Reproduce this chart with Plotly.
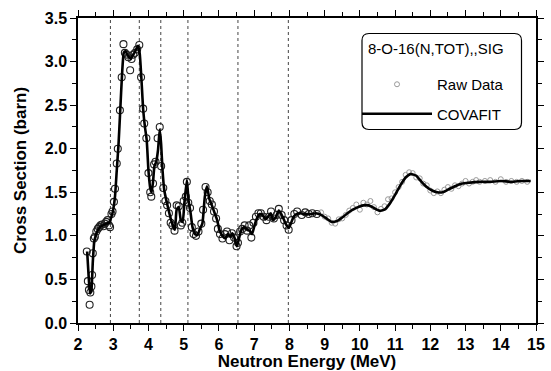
import plotly.graph_objects as go

# ---------------- data ----------------
fit_energy = [2.26, 2.30, 2.34, 2.38, 2.42, 2.46, 2.50, 2.56, 2.62, 2.70, 2.80, 2.88, 2.95, 3.00,
              3.05, 3.10, 3.15, 3.20, 3.25, 3.30, 3.35, 3.40, 3.45, 3.50, 3.55, 3.60, 3.65, 3.70,
              3.75, 3.80, 3.85, 3.90, 3.95, 4.00, 4.05, 4.09, 4.13, 4.17, 4.22, 4.27, 4.32, 4.36,
              4.40, 4.45, 4.50, 4.57, 4.63, 4.69, 4.75, 4.80, 4.86, 4.92, 4.97, 5.02, 5.09, 5.14,
              5.19, 5.25, 5.32, 5.39, 5.46, 5.53, 5.60, 5.66, 5.73, 5.80, 5.88, 5.95, 6.02, 6.10,
              6.18, 6.25, 6.32, 6.38, 6.45, 6.51, 6.57, 6.64, 6.72, 6.80, 6.87, 6.94, 7.01, 7.08,
              7.16, 7.24, 7.32, 7.40, 7.47, 7.54, 7.62, 7.70, 7.77, 7.85, 7.92, 7.98, 8.05, 8.12,
              8.20, 8.30, 8.45, 8.60, 8.75, 8.90, 9.05, 9.20, 9.35, 9.50, 9.65, 9.80, 9.95, 10.10,
              10.25, 10.40, 10.55, 10.70, 10.85, 11.00, 11.15, 11.30, 11.45, 11.60, 11.75, 11.90,
              12.05, 12.20, 12.35, 12.50, 12.70, 12.90, 13.10, 13.40, 13.70, 14.00, 14.30, 14.60,
              14.85]
fit_sigma = [0.82, 0.55, 0.34, 0.38, 0.70, 0.93, 1.00, 1.06, 1.10, 1.12, 1.14, 1.15, 1.22, 1.30,
             1.45, 1.75, 2.05, 2.45, 2.85, 3.10, 3.12, 3.08, 3.05, 3.03, 3.07, 3.10, 3.14, 3.18,
             3.10, 2.80, 2.45, 2.25, 2.10, 1.75, 1.55, 1.50, 1.62, 1.80, 1.85, 1.98, 2.22, 2.05,
             1.75, 1.52, 1.42, 1.30, 1.20, 1.12, 1.07, 1.30, 1.33, 1.18, 1.16, 1.38, 1.64, 1.40,
             1.28, 1.10, 1.02, 1.01, 1.08, 1.14, 1.45, 1.57, 1.42, 1.35, 1.26, 1.18, 1.06, 1.00,
             0.97, 1.02, 0.99, 1.03, 0.97, 0.88, 0.97, 1.07, 1.10, 1.07, 1.06, 1.02, 1.12, 1.20,
             1.25, 1.24, 1.19, 1.22, 1.26, 1.18, 1.22, 1.29, 1.25, 1.18, 1.12, 1.09, 1.15, 1.22,
             1.25, 1.26, 1.25, 1.25, 1.26, 1.24, 1.20, 1.16, 1.17, 1.21, 1.26, 1.30, 1.33, 1.35,
             1.35, 1.32, 1.29, 1.30, 1.37, 1.47, 1.58, 1.67, 1.71, 1.69, 1.62, 1.56,
             1.52, 1.50, 1.50, 1.53, 1.57, 1.60, 1.61, 1.62, 1.62, 1.63, 1.62, 1.63,
             1.63]

raw_energy_low = [2.25, 2.28, 2.31, 2.33, 2.35, 2.38, 2.40, 2.42, 2.45, 2.48, 2.52, 2.56, 2.60,
                  2.64, 2.68, 2.72, 2.76, 2.80, 2.84, 2.88, 2.91, 2.95, 2.98, 3.02, 3.05, 3.10,
                  3.13, 3.19, 3.24, 3.29, 3.33, 3.38, 3.43, 3.48, 3.52, 3.57, 3.62, 3.68, 3.74,
                  3.79, 3.85, 3.88, 3.94, 4.00, 4.05, 4.08, 4.13, 4.16, 4.20, 4.26, 4.32, 4.36,
                  4.42, 4.48, 4.53, 4.58, 4.63, 4.68, 4.74, 4.80, 4.86, 4.92, 4.96, 5.00, 5.06,
                  5.09, 5.13, 5.18, 5.23, 5.28, 5.35, 5.42, 5.50, 5.55, 5.62, 5.68, 5.74, 5.80,
                  5.86, 5.92, 5.97, 6.03, 6.10, 6.17, 6.23, 6.30, 6.37, 6.43, 6.50, 6.54, 6.60,
                  6.66, 6.73, 6.80, 6.86, 6.92, 6.98, 7.05, 7.12, 7.19, 7.27, 7.35, 7.42, 7.48,
                  7.56, 7.64, 7.70, 7.78, 7.85, 7.92, 7.98, 8.06, 8.14, 8.22, 8.35, 8.45, 8.55,
                  8.65, 8.78]
raw_sigma_low = [0.82, 0.48, 0.38, 0.21, 0.35, 0.42, 0.55, 0.80, 0.97, 0.99, 1.05, 1.08, 1.10,
                 1.12, 1.13, 1.11, 1.14, 1.16, 1.18, 1.12, 1.10, 1.25, 1.28, 1.39, 1.54, 1.83,
                 2.00, 2.44, 2.82, 3.20, 3.10, 3.08, 3.05, 2.90, 3.03, 3.08, 3.10, 3.14, 3.19,
                 2.82, 2.46, 2.29, 2.12, 1.72, 1.50, 1.45, 1.60, 1.82, 1.85, 2.12, 2.25, 1.80,
                 1.55, 1.40, 1.35, 1.26, 1.15, 1.12, 1.06, 1.35, 1.34, 1.12, 1.15, 1.40, 1.45,
                 1.62, 1.38, 1.32, 1.10, 1.02, 1.00, 1.05, 1.14, 1.30, 1.56, 1.50, 1.40, 1.36,
                 1.28, 1.20, 1.08, 1.02, 0.97, 1.02, 1.05, 0.95, 1.03, 0.98, 0.88, 0.92, 1.05,
                 1.08, 1.12, 1.06, 1.12, 0.98, 1.15, 1.22, 1.26, 1.26, 1.22, 1.18, 1.22, 1.28,
                 1.20, 1.24, 1.31, 1.24, 1.18, 1.12, 1.07, 1.18, 1.25, 1.28, 1.24, 1.27, 1.25,
                 1.26, 1.25]

raw_energy_high = [8.90, 9.00, 9.10, 9.20, 9.30, 9.40, 9.50, 9.60, 9.70, 9.80, 9.90, 10.00,
                   10.10, 10.20, 10.30, 10.40, 10.50, 10.60, 10.70, 10.80, 10.90, 11.00, 11.10,
                   11.20, 11.30, 11.40, 11.50, 11.60, 11.70, 11.80, 11.90, 12.00, 12.10, 12.20,
                   12.30, 12.40, 12.50, 12.60, 12.70, 12.80, 12.90, 13.00, 13.10, 13.20, 13.30,
                   13.40, 13.55, 13.70, 13.85, 14.00, 14.15, 14.30, 14.45, 14.60, 14.75]
raw_sigma_high = [1.27, 1.22, 1.20, 1.15, 1.14, 1.19, 1.20, 1.24, 1.29, 1.32, 1.36, 1.30,
                  1.38, 1.36, 1.40, 1.33, 1.27, 1.31, 1.34, 1.42, 1.43, 1.50, 1.56,
                  1.62, 1.70, 1.73, 1.72, 1.67, 1.66, 1.60, 1.58, 1.52, 1.49, 1.51,
                  1.49, 1.53, 1.56, 1.54, 1.58, 1.57, 1.60, 1.63, 1.60, 1.62, 1.64,
                  1.62, 1.63, 1.64, 1.62, 1.65, 1.62, 1.63, 1.62, 1.63, 1.62]

boundary_energies = [2.92, 3.74, 4.35, 5.12, 6.54, 7.97]

x_ticks = [2, 3, 4, 5, 6, 7, 8, 9, 10, 11, 12, 13, 14, 15]
y_ticks = [0.0, 0.5, 1.0, 1.5, 2.0, 2.5, 3.0, 3.5]
y_tick_labels = ["0.0", "0.5", "1.0", "1.5", "2.0", "2.5", "3.0", "3.5"]

legend_title = "8-O-16(N,TOT),,SIG"

# ---------------- figure ----------------
FONT = "Liberation Sans, Arial, sans-serif"
PL, PR, PT, PB = 78, 536, 18, 323   # plot area in pixels
PW, PH = PR - PL, PB - PT


def px_x(p):
    return (p - PL) / PW


def px_y(p):
    return (PB - p) / PH


fig = go.Figure()

fig.add_trace(go.Scatter(
    x=raw_energy_low, y=raw_sigma_low, mode="markers", name="Raw Data",
    legendgroup="raw", showlegend=False,
    marker=dict(symbol="circle-open", size=7, color="#222222", line=dict(width=1.1)),
))
fig.add_trace(go.Scatter(
    x=raw_energy_high, y=raw_sigma_high, mode="markers", name="Raw Data",
    legendgroup="raw", showlegend=True,
    marker=dict(symbol="circle-open", size=5, color="#9a9a9a", line=dict(width=1)),
))
fig.add_trace(go.Scatter(
    x=fit_energy, y=fit_sigma, mode="lines", name="COVAFIT", legendgroup="fit",
    line=dict(color="black", width=2.6, shape="spline", smoothing=0.5),
))

for e in boundary_energies:
    fig.add_shape(type="line", xref="x", yref="paper", x0=e, x1=e, y0=0, y1=1,
                  line=dict(color="#444444", width=1, dash="dot"), layer="below")

# rounded legend box
x0, x1 = px_x(362), px_x(521.5)
y0, y1 = px_y(129.5), px_y(33.5)
rx, ry = 7 / PW, 7 / PH
path = (f"M {x0+rx},{y1} L {x1-rx},{y1} Q {x1},{y1} {x1},{y1-ry} "
        f"L {x1},{y0+ry} Q {x1},{y0} {x1-rx},{y0} L {x0+rx},{y0} "
        f"Q {x0},{y0} {x0},{y0+ry} L {x0},{y1-ry} Q {x0},{y1} {x0+rx},{y1} Z")
fig.add_shape(type="path", xref="paper", yref="paper", path=path,
              line=dict(color="black", width=1.2), fillcolor="white", layer="below")

fig.add_annotation(xref="paper", yref="paper", x=px_x(366), y=px_y(48),
                   xanchor="left", yanchor="middle", showarrow=False, text=legend_title,
                   font=dict(family=FONT, size=15, color="black"))

axis_common = dict(
    showline=True, linecolor="black", linewidth=1.5, mirror="allticks",
    ticks="outside", ticklen=6, tickwidth=1.2, tickcolor="black",
    showgrid=False, zeroline=False, automargin=False,
    tickfont=dict(family=FONT, size=16, color="black", weight="bold"),
)

fig.update_xaxes(
    range=[2, 15], tickvals=x_ticks,
    minor=dict(dtick=0.5, ticks="outside", ticklen=4, tickcolor="black", tickwidth=1),
    title=dict(text="Neutron Energy (MeV)", standoff=2,
               font=dict(family=FONT, size=17, color="black", weight="bold")),
    **axis_common,
)
fig.update_yaxes(
    range=[0, 3.5], tickvals=y_ticks, ticktext=y_tick_labels,
    minor=dict(dtick=0.25, ticks="outside", ticklen=4, tickcolor="black", tickwidth=1),
    title=dict(text="Cross Section (barn)", standoff=14,
               font=dict(family=FONT, size=17, color="black", weight="bold")),
    **axis_common,
)

fig.update_layout(
    width=551, height=371,
    margin=dict(l=PL, r=551 - PR, t=PT, b=371 - PB, autoexpand=False),
    paper_bgcolor="white", plot_bgcolor="white",
    legend=dict(
        x=px_x(357), y=px_y(68), xanchor="left", yanchor="top",
        bgcolor="rgba(0,0,0,0)", borderwidth=0,
        font=dict(family=FONT, size=15, color="black"),
        itemwidth=70, tracegroupgap=7, traceorder="grouped",
    ),
)

fig.write_html("out.html", config={"displayModeBar": False},
               post_script="document.body.style.margin='0';")
